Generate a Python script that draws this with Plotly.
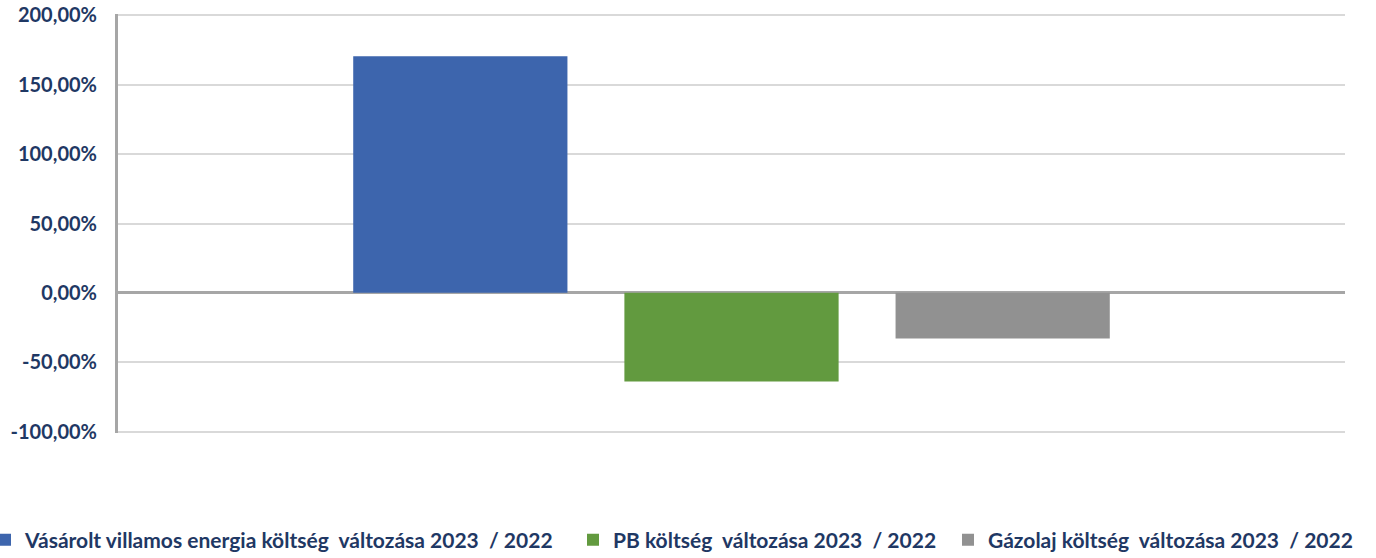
import plotly.graph_objects as go

series_names = [
    "Vásárolt villamos energia költség  változása 2023  / 2022",
    "PB költség  változása 2023  / 2022",
    "Gázolaj költség  változása 2023  / 2022",
]
series_values = [1.705, -0.638, -0.329]
series_colors = ["#3D65AD", "#629A3F", "#919191"]
category = [""]
tick_vals = [-1.0, -0.5, 0.0, 0.5, 1.0, 1.5, 2.0]
tick_text = ["-100,00%", "-50,00%", "0,00%", "50,00%", "100,00%", "150,00%", "200,00%"]

navy = "#1F3864"
W, H = 1376, 558
ML, MR, MT, MB = 118, 31, 14, 125
plot_w = W - ML - MR
legend_ids = ["legend", "legend2", "legend3"]
legend_left_px = [-15, 573, 948]

fig = go.Figure()
for name, val, col, lg in zip(series_names, series_values, series_colors, legend_ids):
    fig.add_trace(go.Bar(x=category, y=[val], name=name, legend=lg,
                         marker=dict(color=col, line=dict(width=0))))

legend_font = dict(family="Lato", size=21, color=navy, weight=700)
legend_common = dict(orientation="h", xref="paper", yref="container",
                     xanchor="left", y=1 - 540 / H, yanchor="middle",
                     font=legend_font, itemwidth=30, bgcolor="rgba(0,0,0,0)")

layout_legends = {}
for lg, px in zip(legend_ids, legend_left_px):
    layout_legends[lg] = dict(legend_common, x=(px - ML) / plot_w)

fig.update_layout(
    width=W, height=H,
    margin=dict(l=ML, r=MR, t=MT, b=MB, autoexpand=False),
    paper_bgcolor="white", plot_bgcolor="white",
    barmode="group", bargap=0.337, bargroupgap=0.21,
    font=dict(family="Lato", color=navy, size=17),
    showlegend=True,
    **layout_legends,
)
fig.update_xaxes(showticklabels=False, showgrid=False, zeroline=False, showline=False, ticks="")
fig.update_yaxes(range=[-1.01, 2.01], tickvals=tick_vals, ticktext=tick_text,
                 tickfont=dict(family="Lato", size=20, color=navy, weight=700),
                 ticklabeloverflow="allow",
                 showgrid=True, gridcolor="#D9D9D9", gridwidth=2,
                 zeroline=True, zerolinecolor="#A6A6A6", zerolinewidth=3,
                 showline=True, linecolor="#A6A6A6", linewidth=3, ticks="", ticklabelstandoff=14)

fig.write_html("out.html", config={"displayModeBar": False},
               post_script="document.body.style.margin='0';")
